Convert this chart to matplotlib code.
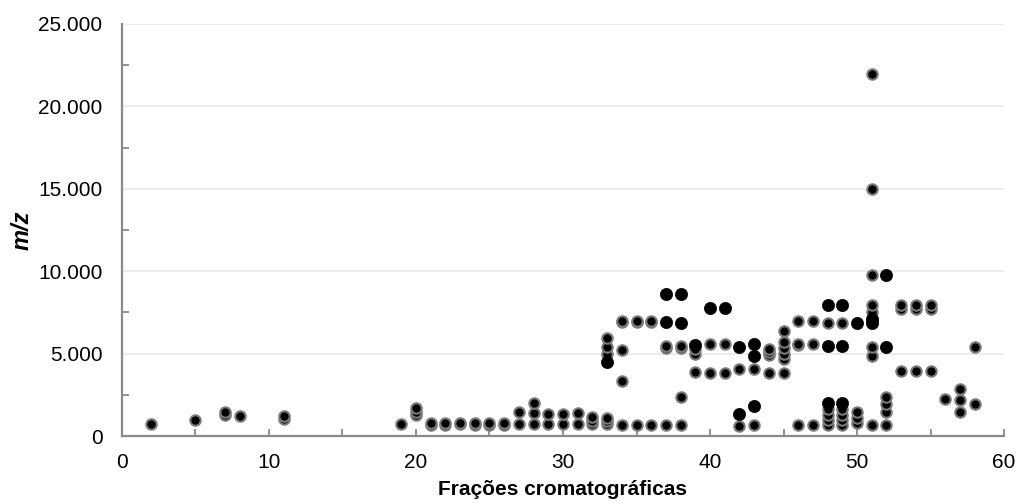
import matplotlib.pyplot as plt
from matplotlib.ticker import MultipleLocator, FuncFormatter

plt.rcParams["font.family"] = ["Liberation Sans", "DejaVu Sans"]

# fractions with gray-rimmed markers
fractions_rim = [
    2, 5, 7, 7, 8, 11, 11, 19, 20, 20, 20,
    21, 21, 22, 22, 23, 23, 24, 24, 25, 25, 26, 26,
    27, 27, 28, 28, 28, 29, 29, 30, 30, 31, 31, 32, 32, 32,
    33, 33, 33, 33, 33, 33, 34, 34, 34, 34, 34, 35, 35, 35, 36, 36, 36,
    37, 37, 37, 38, 38, 38, 38, 39, 39, 39, 40, 40, 41, 41, 42, 42, 43, 43,
    44, 44, 44, 44, 45, 45, 45, 45, 45, 45, 46, 46, 46, 46, 47, 47, 47,
    48, 48, 48, 48, 48, 49, 49, 49, 49, 49, 50, 50, 50,
    51, 51, 51, 51, 51, 51, 51, 51, 51, 52, 52, 52, 52,
    53, 53, 53, 54, 54, 54, 55, 55, 55, 56, 57, 57, 57, 58, 58,
]
mz_rim = [
    710, 970, 1270, 1470, 1210, 1010, 1230, 730, 1300, 1470, 1680,
    650, 780, 650, 780, 700, 780, 650, 780, 650, 780, 650, 780,
    700, 1440, 700, 1380, 1980, 700, 1340, 700, 1340, 700, 1400, 700, 900, 1170,
    700, 900, 1100, 5000, 5400, 5950, 670, 3340, 5220, 6900, 7000, 670, 6900, 7000, 670, 6900, 7000,
    670, 5340, 5450, 670, 2370, 5340, 5450, 3900, 5000, 5300, 3850, 5580, 3850, 5580, 600, 4060, 670, 4060,
    3820, 4900, 5100, 5300, 3850, 4700, 5000, 5340, 5720, 6390, 670, 5500, 5600, 7000, 670, 5600, 7000,
    670, 1000, 1300, 1650, 6870, 670, 1000, 1300, 1650, 6870, 800, 1100, 1450,
    670, 4860, 5420, 7000, 7500, 7950, 9770, 14990, 21950, 670, 1450, 1950, 2370,
    3960, 7700, 7950, 3960, 7700, 7950, 3960, 7700, 7950, 2250, 1480, 2180, 2850, 1940, 5420,
]

# fractions with plain black markers
fractions_black = [33, 37, 37, 38, 38, 39, 40, 41, 42, 42, 43, 43, 43,
                   48, 48, 48, 49, 49, 49, 50, 51, 51, 52, 52]
mz_black = [4490, 8600, 6940, 8600, 6870, 5550, 7770, 7770, 5420, 1330, 5580, 4860, 1820,
            5460, 7950, 2000, 5460, 7950, 2000, 6870, 6860, 7100, 9770, 5420]

x_ticks = [0, 10, 20, 30, 40, 50, 60]
y_ticks = [0, 5000, 10000, 15000, 20000, 25000]


def thousands(value, _pos):
    return f"{int(value):,}".replace(",", ".")


fig = plt.figure(figsize=(10.19, 5.04), dpi=100)
ax = fig.add_axes([0.1197, 0.1349, 0.8656, 0.8175])

ax.plot(fractions_rim, mz_rim, linestyle="none", marker="o", markersize=7.5,
        markerfacecolor="black", markeredgecolor="#7a7a7a", markeredgewidth=1.5, zorder=3)
ax.plot(fractions_black, mz_black, linestyle="none", marker="o", markersize=8.8,
        markerfacecolor="black", markeredgecolor="black", markeredgewidth=0.5, zorder=4)

ax.set_xlim(0, 60)
ax.set_ylim(0, 25000)
ax.set_xticks(x_ticks)
ax.set_yticks(y_ticks)
ax.xaxis.set_minor_locator(MultipleLocator(5))
ax.yaxis.set_minor_locator(MultipleLocator(2500))
ax.yaxis.set_major_formatter(FuncFormatter(thousands))

ax.grid(True, axis="y", color="#ececec", linewidth=1.5, zorder=0)
ax.set_axisbelow(True)
for side in ["top", "right"]:
    ax.spines[side].set_visible(False)
for side in ["left", "bottom"]:
    ax.spines[side].set_color("#8a8a8a")
    ax.spines[side].set_linewidth(1.6)

ax.tick_params(which="both", direction="in", color="#8a8a8a", width=1.3, labelsize=15, labelcolor="black")
ax.tick_params(which="major", length=0)
ax.tick_params(which="minor", length=5)
ax.tick_params(axis="x", which="major", length=5, pad=12)
ax.tick_params(axis="y", which="major", pad=14)

ax.set_xlabel("Frações cromatográficas", fontsize=15, fontweight="bold", labelpad=6)
ax.set_ylabel("m/z", fontsize=17, fontweight="bold", fontstyle="italic", labelpad=3)

fig.savefig("out.png", dpi=100)
